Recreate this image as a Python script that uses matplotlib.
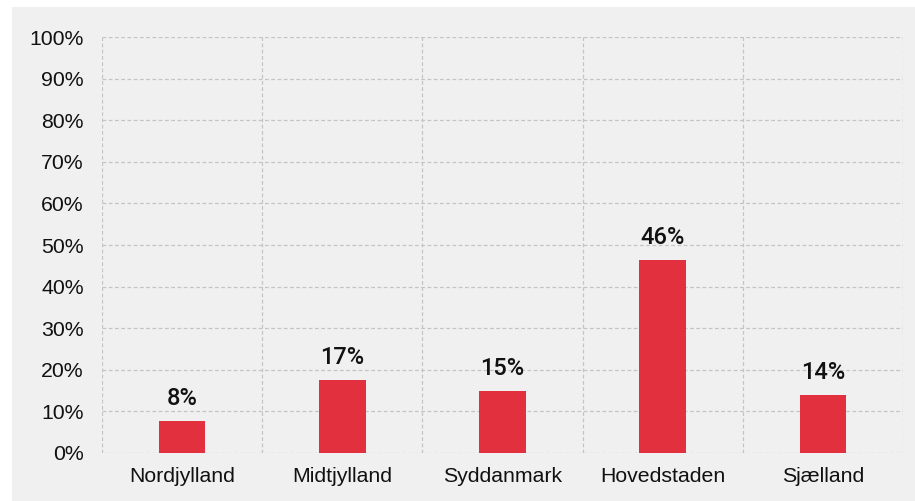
import matplotlib.pyplot as plt
from matplotlib.patches import Rectangle
from matplotlib.ticker import FixedLocator, FuncFormatter

categories = ["Nordjylland", "Midtjylland", "Syddanmark", "Hovedstaden", "Sjælland"]
values = [7.7, 17.5, 14.9, 46.5, 13.9]
labels = ["8%", "17%", "15%", "46%", "14%"]
yticks = list(range(0, 101, 10))

W, H = 915, 501
fig = plt.figure(figsize=(W / 100, H / 100), dpi=100)
fig.patch.set_facecolor("white")
fig.patches.append(Rectangle((12 / W, 0), 1 - 12 / W, 1 - 7 / H, transform=fig.transFigure,
                             facecolor="#f0f0f0", edgecolor="none", zorder=-10))

ax = fig.add_axes([102 / W, (H - 453) / H, (903 - 102) / W, (453 - 37) / H])
ax.set_zorder(1)
ax.set_facecolor("none")
x = range(len(categories))
ax.bar(x, values, width=0.29, color="#e3303f", zorder=3)
for i, (v, lab) in enumerate(zip(values, labels)):
    ax.text(i, v + 2.6, lab, ha="center", va="bottom", fontsize=17,
            family="Roboto", fontweight="medium", color="#111111")

ax.set_xlim(-0.5, len(categories) - 0.5)
ax.set_ylim(0, 100)
ax.set_yticks(yticks)
ax.yaxis.set_major_formatter(FuncFormatter(lambda v, p: f"{int(v)}%"))
ax.set_xticks(list(x))
ax.set_xticklabels(categories)
ax.xaxis.set_minor_locator(FixedLocator([i + 0.5 for i in range(-1, len(categories))]))
ax.grid(axis="y", which="major", linestyle=(0, (3, 2)), color="#c4c4c4", linewidth=0.9, zorder=1)
ax.grid(axis="x", which="minor", linestyle=(0, (3, 2)), color="#c4c4c4", linewidth=0.9, zorder=1)
ax.grid(axis="x", which="major", visible=False)
for s in ax.spines.values():
    s.set_visible(False)
ax.tick_params(axis="both", which="both", length=0)
ax.tick_params(axis="y", pad=13)
ax.tick_params(axis="x", pad=10)
for t in ax.get_xticklabels() + ax.get_yticklabels():
    t.set_family("Liberation Sans")
    t.set_fontsize(15.3)
    t.set_color("#111111")

fig.savefig("out.png", dpi=100, facecolor=fig.get_facecolor())
